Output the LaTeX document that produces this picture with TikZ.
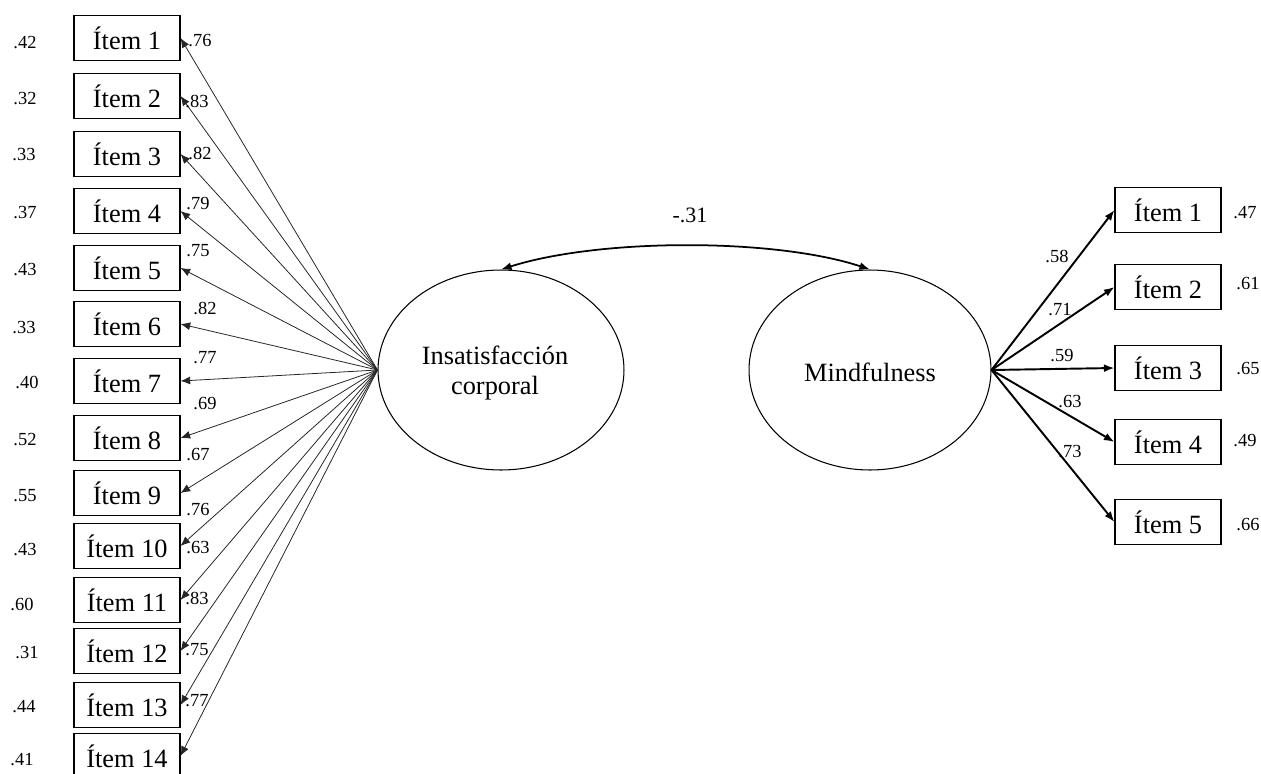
\documentclass[tikz,border=0pt]{standalone}
\usepackage{fontspec}
\setmainfont{Liberation Serif}
\usetikzlibrary{arrows.meta,shapes.geometric}
\tikzset{
	item/.style={draw, line width=0.6pt, minimum width=2.12cm, minimum height=0.9cm, inner sep=0pt, font=\fontsize{15}{16}\selectfont},
	latent/.style={draw, ellipse, line width=0.6pt, minimum height=4cm, inner sep=0pt, align=center, font=\fontsize{15}{17.5}\selectfont},
	coef/.style={inner sep=0pt, font=\fontsize{10.5}{12}\selectfont},
	thinarrow/.style={-{Latex[length=5.5pt,width=4.5pt]}, line width=0.45pt, black!85},
	thickarrow/.style={-{Latex[length=6pt,width=4.5pt]}, line width=1.1pt}
}

\begin{document}
\begin{tikzpicture}[x=0.02cm, y=-0.02cm]
		%%%%% START %%%%%
		\useasboundingbox (0, 0) rectangle (1261, 774);
		
		\node[latent, minimum width=4.92cm] (ins) at (501, 370) {};
		\node[font=\fontsize{15}{17.5}\selectfont, align=center, inner sep=0pt] (inslabel) at (495, 373) {Insatisfacción\\corporal};
		\node[latent, minimum width=4.84cm] (mind) at (870, 370) {};
		\node[font=\fontsize{15}{17.5}\selectfont, inner sep=0pt] (mindlabel) at (870, 372) {Mindfulness};
		
		\coordinate (c1) at (600, 238);
		\coordinate (c2) at (775, 238);
		\draw[{Latex[length=6pt,width=4.5pt]}-{Latex[length=6pt,width=4.5pt]}, line width=1pt] (ins.north) .. controls (c1) and (c2) .. (mind.north);
		\node[inner sep=0pt, font=\fontsize{12.5}{14}\selectfont] (r) at (690, 215) {-.31};
		
		% items of the first factor
		\node[item] (l1) at (127, 38) {Ítem 1};
		\node[item] (l2) at (127, 96) {Ítem 2};
		\node[item] (l3) at (127, 154) {Ítem 3};
		\node[item] (l4) at (127, 211) {Ítem 4};
		\node[item] (l5) at (127, 268) {Ítem 5};
		\node[item] (l6) at (127, 324) {Ítem 6};
		\node[item] (l7) at (127, 381) {Ítem 7};
		\node[item] (l8) at (127, 438) {Ítem 8};
		\node[item] (l9) at (127, 493) {Ítem 9};
		\node[item] (l10) at (127, 546) {Ítem 10};
		\node[item] (l11) at (127, 600) {Ítem 11};
		\node[item] (l12) at (127, 651) {Ítem 12};
		\node[item] (l13) at (127, 705) {Ítem 13};
		\node[item] (l14) at (127, 756) {Ítem 14};
		
		\draw[thinarrow] (ins.west) -- (l1.east);
		\draw[thinarrow] (ins.west) -- (l2.east);
		\draw[thinarrow] (ins.west) -- (l3.east);
		\draw[thinarrow] (ins.west) -- (l4.east);
		\draw[thinarrow] (ins.west) -- (l5.east);
		\draw[thinarrow] (ins.west) -- (l6.east);
		\draw[thinarrow] (ins.west) -- (l7.east);
		\draw[thinarrow] (ins.west) -- (l8.east);
		\draw[thinarrow] (ins.west) -- (l9.east);
		\draw[thinarrow] (ins.west) -- (l10.east);
		\draw[thinarrow] (ins.west) -- (l11.east);
		\draw[thinarrow] (ins.west) -- (l12.east);
		\draw[thinarrow] (ins.west) -- (l13.east);
		\draw[thinarrow] (ins.west) -- (l14.east);
		
		\node[coef] (w1) at (200, 41) {.76};
		\node[coef] (w2) at (197, 101) {.83};
		\node[coef] (w3) at (200, 153) {.82};
		\node[coef] (w4) at (198, 204) {.79};
		\node[coef] (w5) at (198, 251) {.75};
		\node[coef] (w6) at (205, 308) {.82};
		\node[coef] (w7) at (205, 358) {.77};
		\node[coef] (w8) at (205, 404) {.69};
		\node[coef] (w9) at (198, 455) {.67};
		\node[coef] (w10) at (198, 510) {.76};
		\node[coef] (w11) at (198, 548) {.63};
		\node[coef] (w12) at (197, 598) {.83};
		\node[coef] (w13) at (197, 650) {.75};
		\node[coef] (w14) at (197, 701) {.77};
		
		\node[coef] (e1) at (25, 43) {.42};
		\node[coef] (e2) at (25, 99) {.32};
		\node[coef] (e3) at (24, 155) {.33};
		\node[coef] (e4) at (25, 213) {.37};
		\node[coef] (e5) at (25, 270) {.43};
		\node[coef] (e6) at (24, 328) {.33};
		\node[coef] (e7) at (27, 382) {.40};
		\node[coef] (e8) at (25, 440) {.52};
		\node[coef] (e9) at (25, 496) {.55};
		\node[coef] (e10) at (25, 550) {.43};
		\node[coef] (e11) at (22, 604) {.60};
		\node[coef] (e12) at (27, 653) {.31};
		\node[coef] (e13) at (24, 707) {.44};
		\node[coef] (e14) at (22, 760) {.41};
		
		% items of the second factor
		\node[item] (r1) at (1168, 210) {Ítem 1};
		\node[item] (r2) at (1168, 287) {Ítem 2};
		\node[item] (r3) at (1168, 368) {Ítem 3};
		\node[item] (r4) at (1168, 442) {Ítem 4};
		\node[item] (r5) at (1168, 522) {Ítem 5};
		
		\draw[thickarrow] (mind.east) -- (r1.west);
		\draw[thickarrow] (mind.east) -- (r2.west);
		\draw[thickarrow] (mind.east) -- (r3.west);
		\draw[thickarrow] (mind.east) -- (r4.west);
		\draw[thickarrow] (mind.east) -- (r5.west);
		
		\node[coef] (v1) at (1057, 256) {.58};
		\node[coef] (v2) at (1060, 310) {.71};
		\node[coef] (v3) at (1062, 356) {.59};
		\node[coef] (v4) at (1070, 402) {.63};
		\node[coef] (v5) at (1070, 452) {.73};
		
		\node[coef] (f1) at (1245, 213) {.47};
		\node[coef] (f2) at (1248, 284) {.61};
		\node[coef] (f3) at (1248, 369) {.65};
		\node[coef] (f4) at (1245, 441) {.49};
		\node[coef] (f5) at (1248, 525) {.66};
		
		%%%%% END %%%%%
\end{tikzpicture}
\end{document}
